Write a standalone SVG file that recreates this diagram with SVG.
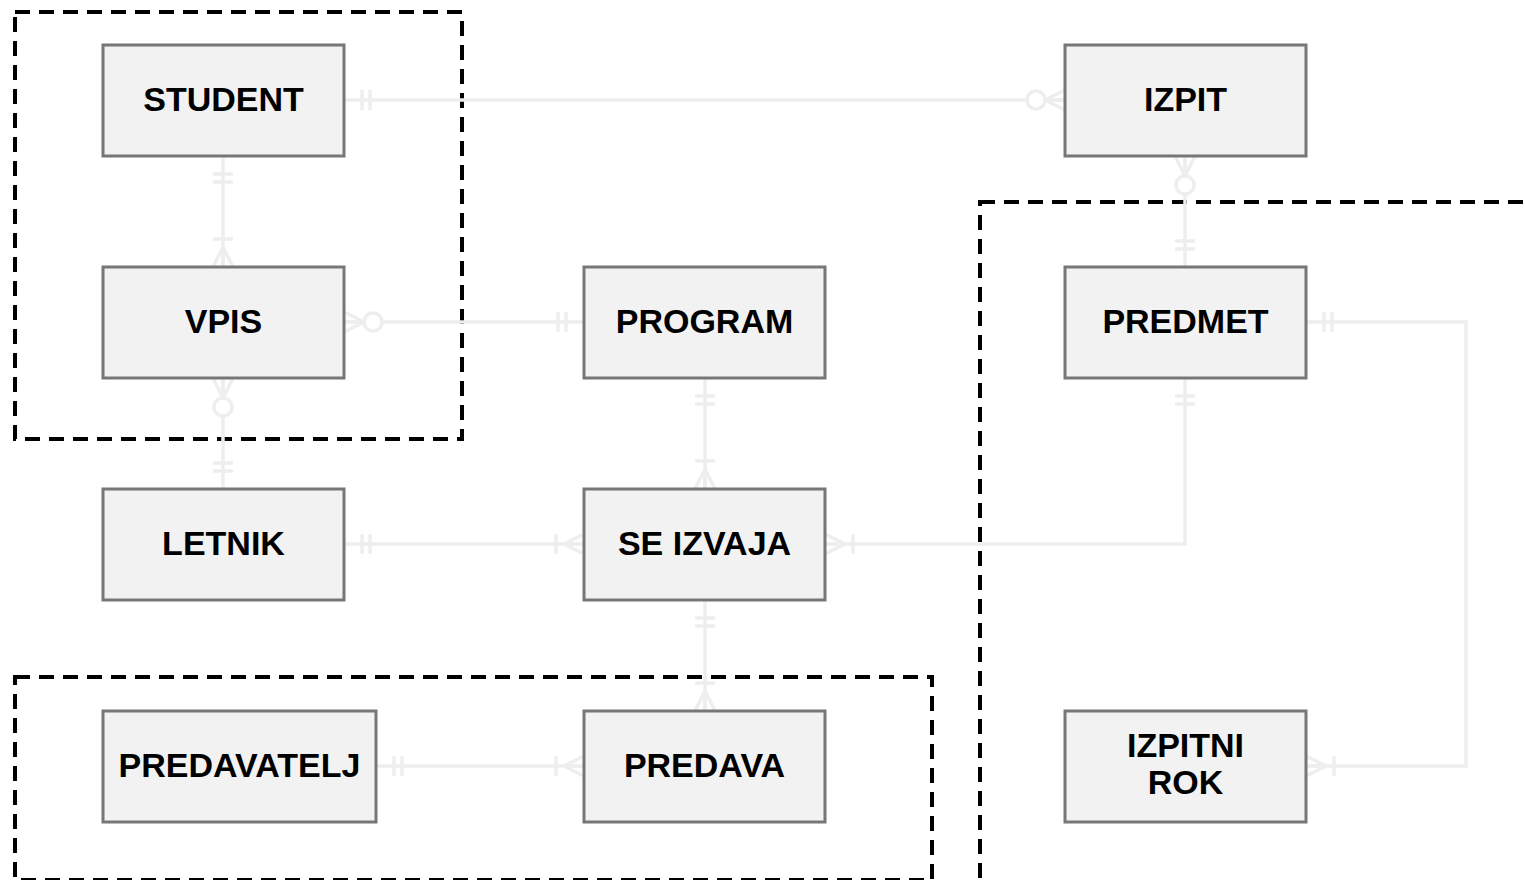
<svg xmlns="http://www.w3.org/2000/svg" width="1525" height="880" viewBox="0 0 1525 880">
  <style>
    .box { fill: #f2f2f2; stroke: #777777; stroke-width: 3; }
    .lbl { font-family: "Liberation Sans", Arial, sans-serif; font-weight: bold; font-size: 34px; fill: #000000; text-anchor: middle; }
    .grp { fill: none; stroke: #000000; stroke-width: 4; stroke-dasharray: 15 9; }
    .rel { fill: none; stroke: #eeeeee; stroke-width: 3.5; }
    .circ { fill: #ffffff; stroke: #eeeeee; stroke-width: 3.5; }
  </style>
  <defs>
    <!-- notation glyphs drawn pointing right, the box edge at x=0 -->
    <g id="one-one">
      <line class="rel" x1="-18" y1="-10" x2="-18" y2="10"/>
      <line class="rel" x1="-26" y1="-10" x2="-26" y2="10"/>
    </g>
    <g id="one-many">
      <line class="rel" x1="-20" y1="0" x2="0" y2="-10"/>
      <line class="rel" x1="-20" y1="0" x2="0" y2="0"/>
      <line class="rel" x1="-20" y1="0" x2="0" y2="10"/>
      <line class="rel" x1="-28" y1="-10" x2="-28" y2="10"/>
    </g>
    <g id="zero-many">
      <line class="rel" x1="-20" y1="0" x2="0" y2="-10"/>
      <line class="rel" x1="-20" y1="0" x2="0" y2="0"/>
      <line class="rel" x1="-20" y1="0" x2="0" y2="10"/>
      <circle class="circ" cx="-29" cy="0" r="9"/>
    </g>
  </defs>

  <!-- grouping frames -->
  <g id="groups">
    <rect class="grp" x="15" y="12" width="447" height="427"/>
    <rect class="grp" x="15" y="677" width="917" height="203"/>
    <rect class="grp" x="980" y="202" width="560" height="690"/>
  </g>

  <!-- relationships -->
  <g id="connectors">
    <line class="rel" x1="344" y1="100" x2="1065" y2="100"/>
    <use href="#one-one" transform="translate(344,100) rotate(180)"/>
    <use href="#zero-many" transform="translate(1065,100)"/>

    <line class="rel" x1="223" y1="156" x2="223" y2="267"/>
    <use href="#one-one" transform="translate(223,156) rotate(-90)"/>
    <use href="#one-many" transform="translate(223,267) rotate(90)"/>

    <line class="rel" x1="344" y1="322" x2="584" y2="322"/>
    <use href="#zero-many" transform="translate(344,322) rotate(180)"/>
    <use href="#one-one" transform="translate(584,322)"/>

    <line class="rel" x1="223" y1="378" x2="223" y2="489"/>
    <use href="#zero-many" transform="translate(223,378) rotate(-90)"/>
    <use href="#one-one" transform="translate(223,489) rotate(90)"/>

    <line class="rel" x1="705" y1="378" x2="705" y2="489"/>
    <use href="#one-one" transform="translate(705,378) rotate(-90)"/>
    <use href="#one-many" transform="translate(705,489) rotate(90)"/>

    <line class="rel" x1="344" y1="544" x2="584" y2="544"/>
    <use href="#one-one" transform="translate(344,544) rotate(180)"/>
    <use href="#one-many" transform="translate(584,544)"/>

    <polyline class="rel" points="825,544 1185,544 1185,378"/>
    <use href="#one-many" transform="translate(825,544) rotate(180)"/>
    <use href="#one-one" transform="translate(1185,378) rotate(-90)"/>

    <line class="rel" x1="1185" y1="156" x2="1185" y2="267"/>
    <use href="#zero-many" transform="translate(1185,156) rotate(-90)"/>
    <use href="#one-one" transform="translate(1185,267) rotate(90)"/>

    <polyline class="rel" points="1306,322 1466,322 1466,766 1306,766"/>
    <use href="#one-one" transform="translate(1306,322) rotate(180)"/>
    <use href="#one-many" transform="translate(1306,766) rotate(180)"/>

    <line class="rel" x1="705" y1="600" x2="705" y2="711"/>
    <use href="#one-one" transform="translate(705,600) rotate(-90)"/>
    <use href="#one-many" transform="translate(705,711) rotate(90)"/>

    <line class="rel" x1="376" y1="766" x2="584" y2="766"/>
    <use href="#one-one" transform="translate(376,766) rotate(180)"/>
    <use href="#one-many" transform="translate(584,766)"/>
  </g>

  <!-- entities -->
  <g id="student"><rect class="box" x="103" y="45" width="241" height="111"/><text class="lbl" x="223.5" y="111">STUDENT</text></g>
  <g id="vpis"><rect class="box" x="103" y="267" width="241" height="111"/><text class="lbl" x="223.5" y="333">VPIS</text></g>
  <g id="letnik"><rect class="box" x="103" y="489" width="241" height="111"/><text class="lbl" x="223.5" y="555">LETNIK</text></g>
  <g id="predavatelj"><rect class="box" x="103" y="711" width="273" height="111"/><text class="lbl" x="239.5" y="777">PREDAVATELJ</text></g>
  <g id="program"><rect class="box" x="584" y="267" width="241" height="111"/><text class="lbl" x="704.5" y="333">PROGRAM</text></g>
  <g id="se-izvaja"><rect class="box" x="584" y="489" width="241" height="111"/><text class="lbl" x="704.5" y="555">SE IZVAJA</text></g>
  <g id="predava"><rect class="box" x="584" y="711" width="241" height="111"/><text class="lbl" x="704.5" y="777">PREDAVA</text></g>
  <g id="izpit"><rect class="box" x="1065" y="45" width="241" height="111"/><text class="lbl" x="1185.5" y="111">IZPIT</text></g>
  <g id="predmet"><rect class="box" x="1065" y="267" width="241" height="111"/><text class="lbl" x="1185.5" y="333">PREDMET</text></g>
  <g id="izpitni-rok"><rect class="box" x="1065" y="711" width="241" height="111"/><text class="lbl" x="1185.5" y="757">IZPITNI</text><text class="lbl" x="1185.5" y="794">ROK</text></g>
</svg>
